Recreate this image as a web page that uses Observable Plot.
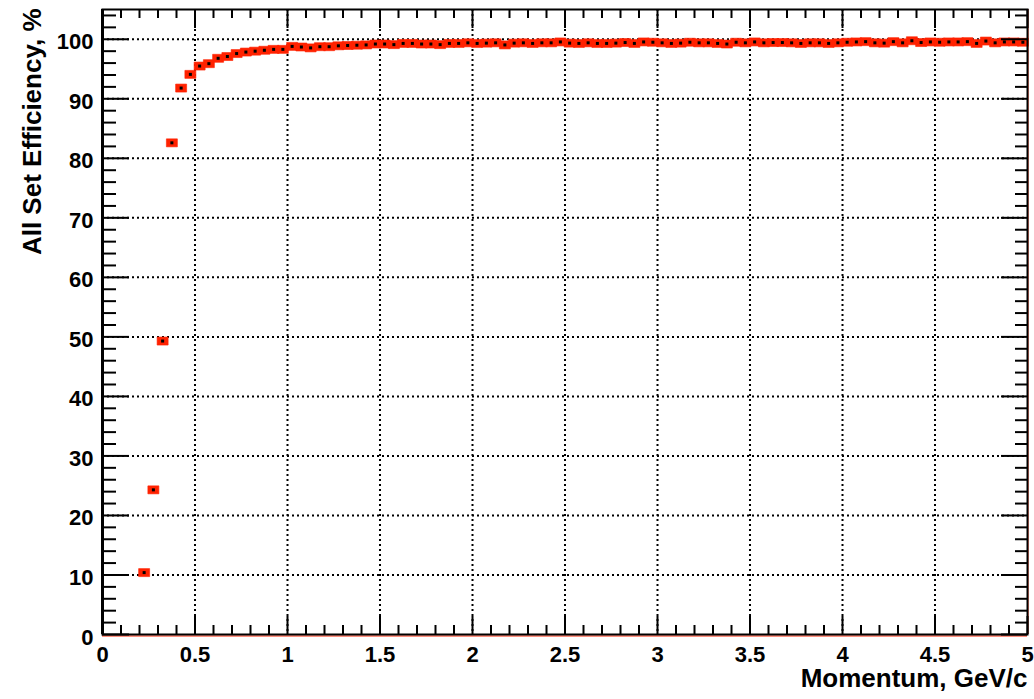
<!DOCTYPE html>
<html>
<head>
<meta charset="utf-8">
<script src="https://cdn.jsdelivr.net/npm/d3@7"></script>
<script src="https://cdn.jsdelivr.net/npm/@observablehq/plot@0.6"></script>
<style>
  html, body { margin: 0; padding: 0; background: #fff; }
</style>
</head>
<body>
<div id="chart"></div>
<script>
// ---- data ----
const momentum = [
  0.225, 0.275, 0.325, 0.375, 0.425, 0.475, 0.525, 0.575, 0.625, 0.675,
  0.725, 0.775, 0.825, 0.875, 0.925, 0.975, 1.025, 1.075, 1.125, 1.175,
  1.225, 1.275, 1.325, 1.375, 1.425, 1.475, 1.525, 1.575, 1.625, 1.675,
  1.725, 1.775, 1.825, 1.875, 1.925, 1.975, 2.025, 2.075, 2.125, 2.175,
  2.225, 2.275, 2.325, 2.375, 2.425, 2.475, 2.525, 2.575, 2.625, 2.675,
  2.725, 2.775, 2.825, 2.875, 2.925, 2.975, 3.025, 3.075, 3.125, 3.175,
  3.225, 3.275, 3.325, 3.375, 3.425, 3.475, 3.525, 3.575, 3.625, 3.675,
  3.725, 3.775, 3.825, 3.875, 3.925, 3.975, 4.025, 4.075, 4.125, 4.175,
  4.225, 4.275, 4.325, 4.375, 4.425, 4.475, 4.525, 4.575, 4.625, 4.675,
  4.725, 4.775, 4.825, 4.875, 4.925, 4.975
];
const efficiency = [
  10.4, 24.3, 49.3, 82.6, 91.8, 94.1, 95.5, 95.9, 96.8, 97.1,
  97.6, 97.85, 98.0, 98.15, 98.3, 98.3, 98.8, 98.7, 98.55, 98.75,
  98.75, 98.9, 98.95, 99.0, 99.05, 99.2, 99.2, 99.1, 99.3, 99.3,
  99.2, 99.2, 99.1, 99.3, 99.3, 99.4, 99.3, 99.35, 99.4, 99.05,
  99.35, 99.4, 99.3, 99.4, 99.4, 99.55, 99.35, 99.3, 99.4, 99.3,
  99.3, 99.35, 99.45, 99.3, 99.55, 99.5, 99.4, 99.3, 99.35, 99.5,
  99.4, 99.4, 99.3, 99.2, 99.5, 99.4, 99.55, 99.4, 99.45, 99.45,
  99.4, 99.3, 99.4, 99.4, 99.3, 99.4, 99.5, 99.55, 99.6, 99.4,
  99.35, 99.6, 99.4, 99.75, 99.45, 99.55, 99.5, 99.55, 99.55, 99.6,
  99.3, 99.7, 99.4, 99.55, 99.55, 99.5
];
const xMajorTicks = [0, 0.5, 1, 1.5, 2, 2.5, 3, 3.5, 4, 4.5, 5];
const xMinorTicks = [0.1, 0.2, 0.3, 0.4, 0.6, 0.7, 0.8, 0.9, 1.1, 1.2, 1.3, 1.4,
  1.6, 1.7, 1.8, 1.9, 2.1, 2.2, 2.3, 2.4, 2.6, 2.7, 2.8, 2.9, 3.1, 3.2, 3.3, 3.4,
  3.6, 3.7, 3.8, 3.9, 4.1, 4.2, 4.3, 4.4, 4.6, 4.7, 4.8, 4.9];
const yMajorTicks = [0, 10, 20, 30, 40, 50, 60, 70, 80, 90, 100];
const yMinorTicks = [2, 4, 6, 8, 12, 14, 16, 18, 22, 24, 26, 28, 32, 34, 36, 38,
  42, 44, 46, 48, 52, 54, 56, 58, 62, 64, 66, 68, 72, 74, 76, 78, 82, 84, 86, 88,
  92, 94, 96, 98, 102, 104];
const xGrid = [0.5, 1, 1.5, 2, 2.5, 3, 3.5, 4, 4.5];
const yGrid = [10, 20, 30, 40, 50, 60, 70, 80, 90, 100];
const xLabel = "Momentum, GeV/c";
const yLabel = "All Set Efficiency, %";

const data = momentum.map((m, i) => ({m, e: efficiency[i]}));

// ---- layout ----
const W = 1034, H = 699;
const mL = 102, mR = 7, mT = 9, mB = 65;
const innerW = W - mL - mR, innerH = H - mT - mB;
const X0 = 0, X1 = 5, Y0 = 0, Y1 = 105;
const px2x = p => p / innerW * (X1 - X0);
const px2y = p => p / innerH * (Y1 - Y0);

const redBox = {draw(ctx) { ctx.rect(-5.5, -4, 11, 8); }};
const blackDot = {draw(ctx) { ctx.rect(-1.5, -1.5, 3, 3); }};
const tk = {stroke: "black", strokeWidth: 2};

const chart = Plot.plot({
  width: W, height: H, marginLeft: mL, marginRight: mR, marginTop: mT, marginBottom: mB,
  style: {fontFamily: "'Liberation Sans', Arial, sans-serif", fontWeight: "bold", fontSize: "22px", color: "black"},
  x: {domain: [X0, X1], axis: null},
  y: {domain: [Y0, Y1], axis: null},
  marks: [
    // grid
    Plot.ruleX(xGrid, {x: d => d, stroke: "black", strokeWidth: 2, strokeDasharray: "2,3"}),
    Plot.ruleY(yGrid, {y: d => d, stroke: "black", strokeWidth: 2, strokeDasharray: "2,3"}),
    // data
    Plot.dot(data, {x: "m", y: "e", symbol: redBox, fill: "#ff2200", stroke: "#ff2200", strokeWidth: 0.6, r: 5}),
    Plot.dot(data, {x: "m", y: "e", symbol: blackDot, fill: "black", r: 2}),
    // red outline along bottom and right
    Plot.ruleY([Y0], {stroke: "#ff2200", strokeWidth: 1, dy: 1.5}),
    Plot.ruleX([X1], {stroke: "#ff2200", strokeWidth: 1, dx: 0.5}),
    // frame
    Plot.frame({stroke: "black", strokeWidth: 2}),
    Plot.ruleX([X0], {stroke: "black", strokeWidth: 3}),
    // bottom & left ticks
    Plot.ruleX(xMajorTicks, {...tk, x: d => d, y1: Y0, y2: Y0 + px2y(18)}),
    Plot.ruleX(xMinorTicks, {...tk, x: d => d, y1: Y0, y2: Y0 + px2y(9)}),
    Plot.ruleY(yMajorTicks, {...tk, y: d => d, x1: X0, x2: X0 + px2x(27)}),
    Plot.ruleY(yMinorTicks, {...tk, y: d => d, x1: X0, x2: X0 + px2x(14)}),
    // top & right ticks
    Plot.tickX(xMajorTicks, {...tk, x: d => d, insetBottom: innerH - 19}),
    Plot.tickX(xMinorTicks, {...tk, x: d => d, insetBottom: innerH - 9}),
    Plot.tickY(yMajorTicks, {...tk, y: d => d, insetLeft: innerW - 26}),
    Plot.tickY(yMinorTicks, {...tk, y: d => d, insetLeft: innerW - 12}),
    // tick labels
    Plot.axisX({ticks: xMajorTicks, tickSize: 0, tickPadding: 12, fontSize: 22, fontWeight: "bold", label: null, tickFormat: d => String(d)}),
    Plot.axisY({ticks: yMajorTicks, tickSize: 0, tickPadding: 9, fontSize: 22, fontWeight: "bold", label: null, dy: 3, tickFormat: d => String(d)}),
    // axis titles
    Plot.text([xLabel], {text: d => d, frameAnchor: "bottom-right", textAnchor: "end", dy: 52, fontSize: 26, fontWeight: "bold", fill: "black"}),
    Plot.text([yLabel], {text: d => d, frameAnchor: "top-left", rotate: -90, textAnchor: "end", dx: -80, dy: -1, fontSize: 26, fontWeight: "bold", fill: "black"})
  ]
});
document.getElementById("chart").appendChild(chart);
</script>
</body>
</html>
